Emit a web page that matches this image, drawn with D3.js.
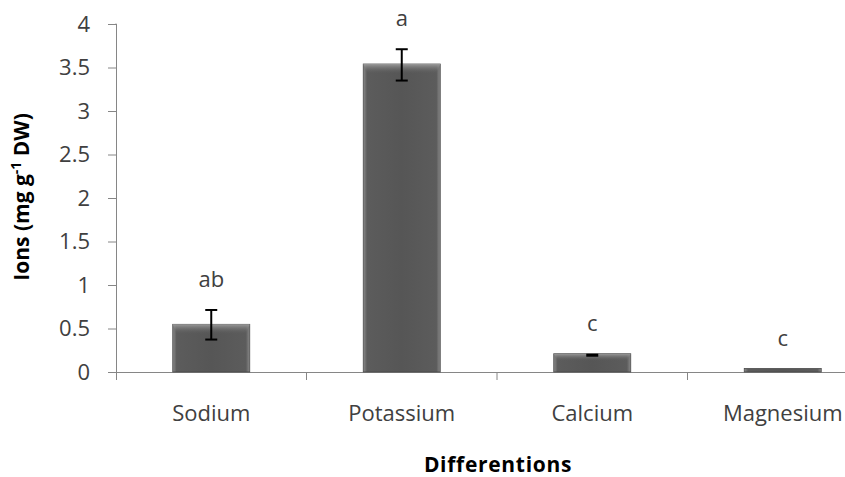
<!DOCTYPE html>
<html>
<head>
<meta charset="utf-8">
<script src="https://cdn.jsdelivr.net/npm/d3@7"></script>
<style>
  html, body { margin: 0; padding: 0; background: #fff; }
  svg { display: block; }
</style>
</head>
<body>
<svg id="chart" width="845" height="477"></svg>
<script>
const categories = ["Sodium", "Potassium", "Calcium", "Magnesium"];
const values = [0.548, 3.54, 0.21, 0.04];
const errors = [0.17, 0.18, 0.015, 0];
const errCenters = [0.543, 3.53, 0.195, 0.04];
const letters = ["ab", "a", "c", "c"];
const yTicks = [0, 0.5, 1, 1.5, 2, 2.5, 3, 3.5, 4];
const yTickLabels = ["0", "0.5", "1", "1.5", "2", "2.5", "3", "3.5", "4"];

const svg = d3.select("#chart");
const font = "'Open Sans', sans-serif";
const x0 = 116, y0 = 372;

const x = d3.scaleBand().domain(categories).range([x0, x0 + 190.5 * 4]).paddingInner(0).paddingOuter(0);
const y = d3.scaleLinear().domain([0, 4]).range([y0, 24]);
const barW = 77;

const defs = svg.append("defs");
const hg = defs.append("linearGradient").attr("id", "hg").attr("x1", 0).attr("x2", 1).attr("y1", 0).attr("y2", 0);
hg.append("stop").attr("offset", "0%").attr("stop-color", "#8a8a8a");
hg.append("stop").attr("offset", "5%").attr("stop-color", "#5c5c5c");
hg.append("stop").attr("offset", "50%").attr("stop-color", "#565656");
hg.append("stop").attr("offset", "95%").attr("stop-color", "#5c5c5c");
hg.append("stop").attr("offset", "100%").attr("stop-color", "#8a8a8a");
const tg = defs.append("linearGradient").attr("id", "tg").attr("x1", 0).attr("x2", 0).attr("y1", 0).attr("y2", 1);
tg.append("stop").attr("offset", "0%").attr("stop-color", "#9a9a9a").attr("stop-opacity", 1);
tg.append("stop").attr("offset", "100%").attr("stop-color", "#5a5a5a").attr("stop-opacity", 0);

// Y axis
const yAxis = d3.axisLeft(y).tickValues(yTicks).tickFormat((d, i) => yTickLabels[i]).tickSize(8).tickPadding(18);
const gy = svg.append("g").attr("transform", `translate(${x0},0)`).call(yAxis);
gy.select(".domain").attr("stroke", "#868686").attr("d", `M-0.5,${y(4)}H0.5V${y0 + 8}`);
gy.selectAll(".tick line").attr("stroke", "#868686");
gy.selectAll(".tick text").attr("font-family", font).attr("font-size", 22).attr("fill", "#404040");

// X axis
const xAxis = d3.axisBottom(x).tickSize(0).tickFormat("");
const gx = svg.append("g").attr("transform", `translate(0,${y0})`).call(xAxis);
gx.select(".domain").attr("stroke", "#868686").attr("d", `M${x0},0.5H${x0 + 190.5 * 4}`);
const bounds = d3.range(1, 4).map(i => x0 + x.step() * i);
gx.selectAll(".btick").data(bounds).enter().append("line")
  .attr("x1", d => d).attr("x2", d => d).attr("y1", 0).attr("y2", 8).attr("stroke", "#868686");
gx.selectAll(".clabel").data(categories).enter().append("text")
  .attr("x", d => x(d) + x.bandwidth() / 2).attr("y", 49)
  .attr("text-anchor", "middle").attr("font-family", font).attr("font-size", 22).attr("fill", "#404040")
  .text(d => d);

// Bars
const bars = svg.append("g");
categories.forEach((c, i) => {
  const cx = x(c) + x.bandwidth() / 2;
  const top = y(values[i]);
  const h = y0 - top;
  bars.append("rect").attr("x", cx - barW / 2).attr("y", top).attr("width", barW).attr("height", h)
    .attr("fill", "url(#hg)").attr("stroke", "#4a4a4a").attr("stroke-width", 0.8);
  const bh = Math.min(10, h * 0.4);
  if (h > 6) {
    bars.append("path")
      .attr("d", `M${cx - barW / 2},${top}H${cx + barW / 2}L${cx + barW / 2 - 4},${top + bh}H${cx - barW / 2 + 4}Z`)
      .attr("fill", "url(#tg)");
  }
});

// Error bars
const eg = svg.append("g").attr("stroke", "#000").attr("stroke-width", 2);
categories.forEach((c, i) => {
  if (errors[i] <= 0) return;
  const cx = x(c) + x.bandwidth() / 2;
  const yt = y(errCenters[i] + errors[i]);
  const yb = y(errCenters[i] - errors[i]);
  if (yb - yt < 5) {
    svg.append("rect").attr("x", cx - 6).attr("y", yt).attr("width", 12).attr("height", Math.max(3, yb - yt)).attr("fill", "#000");
    return;
  }
  eg.append("line").attr("x1", cx).attr("x2", cx).attr("y1", yt).attr("y2", yb);
  eg.append("line").attr("x1", cx - 6).attr("x2", cx + 6).attr("y1", yt).attr("y2", yt);
  eg.append("line").attr("x1", cx - 6).attr("x2", cx + 6).attr("y1", yb).attr("y2", yb);
});

// Letters
categories.forEach((c, i) => {
  const cx = x(c) + x.bandwidth() / 2;
  const topVal = Math.max(values[i], errCenters[i] + errors[i]);
  svg.append("text").attr("x", cx).attr("y", y(topVal) - 23)
    .attr("text-anchor", "middle").attr("font-family", font).attr("font-size", 22).attr("fill", "#404040")
    .text(letters[i]);
});

// Axis titles
svg.append("text").attr("x", 498).attr("y", 472).attr("text-anchor", "middle")
  .attr("font-family", font).attr("font-size", 21).attr("font-weight", "bold").attr("fill", "#000")
  .attr("letter-spacing", 0.7)
  .text("Differentions");

const yt = svg.append("text").attr("transform", "translate(29,197) rotate(-90)").attr("text-anchor", "middle")
  .attr("font-family", font).attr("font-size", 21).attr("font-weight", "bold").attr("fill", "#000");
yt.append("tspan").text("Ions (mg g");
yt.append("tspan").attr("dy", -8).attr("font-size", 14).text("-1");
yt.append("tspan").attr("dy", 8).text(" DW)");
</script>
</body>
</html>
